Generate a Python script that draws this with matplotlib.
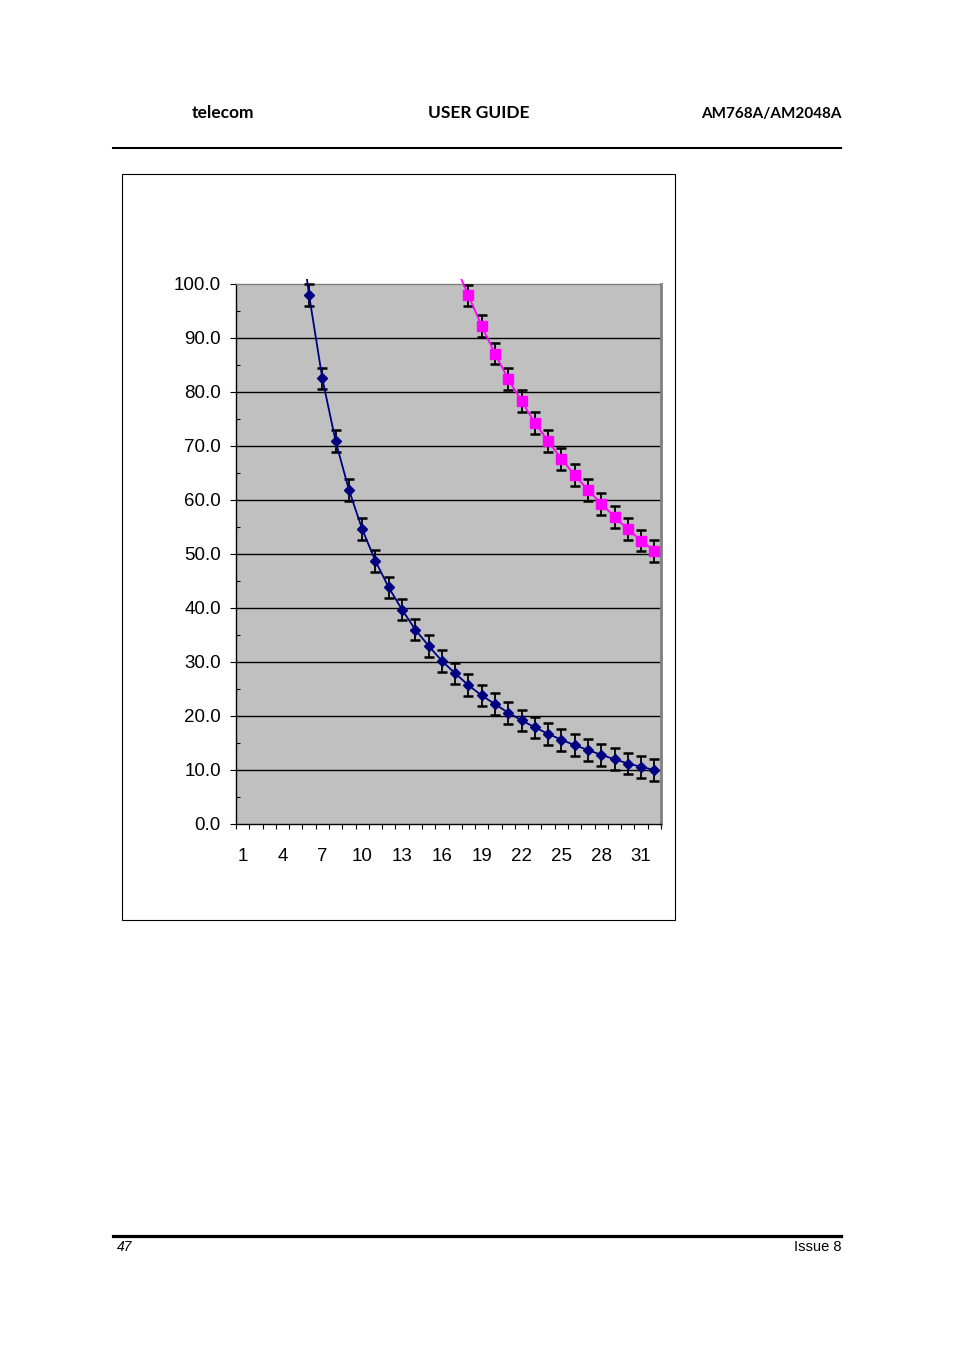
import matplotlib
matplotlib.use('Agg')
import matplotlib.pyplot as plt
import numpy as np
from matplotlib.patches import Rectangle
from matplotlib.lines import Line2D

# ---- data ----
categories = list(range(1, 33))
tick_labels = [str(c) for c in range(1, 33, 3)]
tick_positions = list(range(1, 33, 3))

blue_cats = list(range(5, 33))
blue_values = [116.0, 98.0, 82.5, 70.9, 61.9, 54.6, 48.7, 43.8, 39.7, 36.0,
               33.0, 30.2, 27.9, 25.7, 23.8, 22.2, 20.6, 19.2, 17.9, 16.7,
               15.6, 14.6, 13.7, 12.8, 12.0, 11.2, 10.6, 10.0]
blue_err = [2.0] * len(blue_values)

magenta_cats = list(range(17, 33))
magenta_values = [103.5, 97.9, 92.2, 87.1, 82.4, 78.3, 74.3, 70.9, 67.6, 64.6,
                  61.9, 59.3, 56.9, 54.6, 52.5, 50.6]
magenta_err = [2.0] * len(magenta_values)

y_ticks = list(range(0, 101, 10))
y_minor = list(range(5, 100, 10))

W, H = 954, 1350
fig = plt.figure(figsize=(W / 100, H / 100), dpi=100)
fig.patch.set_facecolor('white')

# header / footer
fig.text(223 / W, 1 - 113 / H, 'telecom', ha='center', va='center',
         fontsize=12.5, fontweight='bold', family='Lato')
fig.text(479 / W, 1 - 113 / H, 'USER GUIDE', ha='center', va='center',
         fontsize=12.5, fontweight='bold', family='Lato')
fig.text(842 / W, 1 - 114 / H, 'AM768A/AM2048A', ha='right', va='center',
         fontsize=11, fontweight='bold', family='Lato')
fig.add_artist(Line2D([113 / W, 841 / W], [1 - 148 / H] * 2, color='black',
                      lw=1.5, transform=fig.transFigure))
fig.add_artist(Line2D([113 / W, 841 / W], [1 - 1236 / H] * 2, color='black',
                      lw=2.3, transform=fig.transFigure))
fig.text(117 / W, 1 - 1247 / H, '47', ha='left', va='center', fontsize=10,
         style='italic', family='Liberation Sans')
fig.text(842 / W, 1 - 1247 / H, 'Issue 8', ha='right', va='center', fontsize=10.5,
         family='Liberation Sans')

# chart frame
fig.add_artist(Rectangle((122 / W, 1 - 920 / H), (675 - 122) / W, (920 - 174) / H,
                         transform=fig.transFigure, fill=False,
                         edgecolor='black', lw=0.8))

# plot area
ax = fig.add_axes([236 / W, 1 - 824 / H, 425 / W, 540 / H])
ax.set_facecolor('#C0C0C0')
ax.set_xlim(0.5, 32.5)
ax.set_ylim(0, 100)

ax.set_yticks(y_ticks)
ax.set_yticklabels(['%.1f' % v for v in y_ticks], family='Liberation Sans', fontsize=13.5)
ax.set_yticks(y_minor, minor=True)
ax.yaxis.grid(True, which='major', color='black', lw=1.0)
ax.set_axisbelow(True)
gls = ax.get_ygridlines()
gls[0].set_visible(False)
gls[-1].set_visible(False)

ax.set_xticks(np.arange(0.5, 33, 1))
ax.set_xticklabels([])
ax.set_xticks(tick_positions, minor=True)
ax.set_xticklabels(tick_labels, minor=True, family='Liberation Sans', fontsize=13.5)

ax.tick_params(axis='y', which='major', direction='out', length=4.3, width=0.8, pad=6.5)
ax.tick_params(axis='y', which='minor', direction='in', length=3, width=0.8)
ax.tick_params(axis='x', which='major', direction='out', length=3.6, width=0.8)
ax.tick_params(axis='x', which='minor', length=0, pad=17)

for s in ['left', 'bottom']:
    ax.spines[s].set_color('black')
    ax.spines[s].set_linewidth(1.0)
ax.spines['top'].set_color('#808080')
ax.spines['top'].set_linewidth(1.0)
ax.spines['right'].set_color('#808080')
ax.spines['right'].set_linewidth(2.0)

clip_rect = Rectangle((0.5, 0), 32, 101, transform=ax.transData)


def draw_series(cats, vals, errs, color, marker, ms):
    eb = ax.errorbar(cats, vals, yerr=errs, fmt='none', ecolor='black',
                     elinewidth=1.3, capsize=3.3, capthick=1.8, zorder=3)
    for a in list(eb[1]) + list(eb[2]):
        a.set_clip_path(clip_rect)
    ln, = ax.plot(cats, vals, color=color, lw=1.3, zorder=4)
    ln.set_clip_path(clip_rect)
    mk, = ax.plot(cats, vals, linestyle='none', marker=marker, ms=ms,
                  color=color, markeredgecolor=color, zorder=5)
    mk.set_clip_path(clip_rect)


draw_series(blue_cats, blue_values, blue_err, '#000080', 'D', 5.5)
draw_series(magenta_cats, magenta_values, magenta_err, '#FF00FF', 's', 6.5)

fig.savefig('out.png', dpi=100, facecolor='white')
